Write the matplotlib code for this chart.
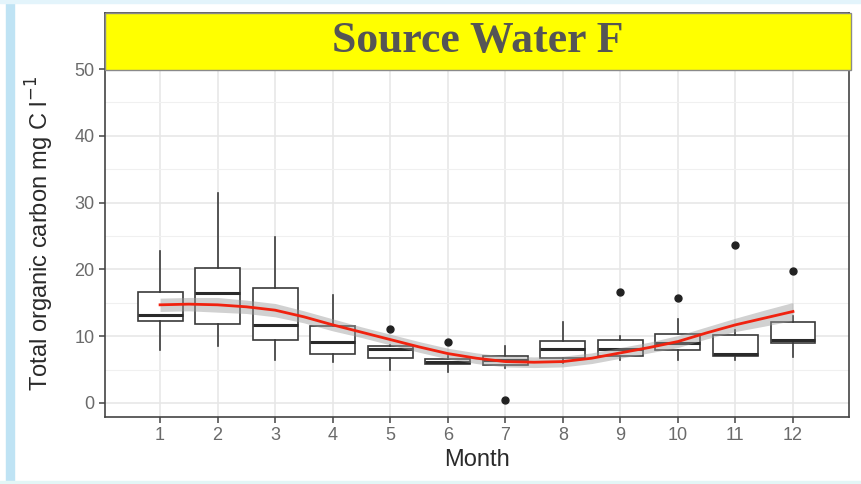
import matplotlib.pyplot as plt
from matplotlib.patches import Rectangle
import numpy as np

plt.rcParams["font.family"] = ["Liberation Sans", "DejaVu Sans"]

# box stats per month (mg C / l)
months = list(range(1, 13))
whislo = [8.0, 8.5, 6.5, 6.1, 5.0, 4.6, 5.2, 6.0, 6.5, 6.5, 6.5, 6.9]
q1     = [12.3, 11.9, 9.4, 7.4, 6.8, 5.8, 5.7, 6.8, 7.0, 7.9, 7.1, 9.0]
med    = [13.1, 16.5, 11.7, 9.2, 8.1, 6.2, 6.4, 8.1, 8.1, 9.0, 7.3, 9.5]
q3     = [16.6, 20.2, 17.2, 11.6, 8.5, 6.6, 7.0, 9.3, 9.5, 10.4, 10.2, 12.2]
whishi = [22.8, 31.4, 24.8, 16.1, 8.7, 7.0, 8.6, 12.1, 10.1, 12.6, 10.9, 13.0]
outliers = [[], [], [], [], [11.1], [9.1], [0.4], [], [16.6], [15.7], [23.6], [19.7]]

# loess smooth + band
smooth_x = [1, 1.5, 2, 2.5, 3, 3.5, 4, 4.5, 5, 5.5, 6, 6.5, 7, 7.5, 8, 8.5, 9, 9.5, 10, 10.5, 11, 11.5, 12]
smooth_y = [14.7, 14.8, 14.7, 14.4, 13.9, 12.9, 11.7, 10.6, 9.5, 8.4, 7.4, 6.7, 6.2, 6.1, 6.2, 6.7, 7.5, 8.3, 9.2, 10.5, 11.7, 12.7, 13.7]
smooth_se = [1.0, 1.0, 1.1, 1.0, 1.0, 0.9, 0.9, 0.8, 0.8, 0.8, 0.8, 0.8, 0.8, 0.8, 0.8, 0.8, 0.8, 0.8, 0.9, 0.9, 1.0, 1.2, 1.35]

W, H = 861, 484
fig = plt.figure(figsize=(W / 100, H / 100), dpi=100)

# slide decoration
fig.patches.append(Rectangle((6 / W, 0), 8 / W, 1, transform=fig.transFigure,
                             color="#bfe3f4", zorder=0))
fig.patches.append(Rectangle((0, 1 - 3 / H), 1, 3 / H, transform=fig.transFigure,
                             color="#e3f4fb", zorder=0))
fig.patches.append(Rectangle((0, 0), 1, 3 / H, transform=fig.transFigure,
                             color="#e3f6f6", zorder=0))

ax = fig.add_axes([105 / W, 1 - 417 / H, 744 / W, 404 / H])

stats = []
for i in range(12):
    stats.append(dict(whislo=whislo[i], q1=q1[i], med=med[i], q3=q3[i],
                      whishi=whishi[i], fliers=outliers[i]))

ax.bxp(stats, positions=months, widths=0.78, showcaps=False, patch_artist=True,
       boxprops=dict(facecolor="white", edgecolor="#3a3a3a", linewidth=1.2),
       whiskerprops=dict(color="#3a3a3a", linewidth=1.2),
       medianprops=dict(color="#2a2a2a", linewidth=2.2),
       flierprops=dict(marker="o", markerfacecolor="#222222", markeredgecolor="#222222",
                       markersize=5),
       zorder=3)

sy = np.array(smooth_y)
se = np.array(smooth_se)
ax.fill_between(smooth_x, sy - se, sy + se, color="#999999", alpha=0.45, lw=0, zorder=4)
ax.plot(smooth_x, smooth_y, color="#f0220f", lw=2, zorder=5)

ax.set_xlim(0.043, 12.974)
ax.set_ylim(-2.1, 58.4)
ax.set_xticks(months)
ax.set_yticks([0, 10, 20, 30, 40, 50])
ax.set_yticks([5, 15, 25, 35, 45], minor=True)
ax.grid(True, which="major", color="#e6e6e6", lw=1.1, zorder=0)
ax.grid(True, which="minor", axis="y", color="#f0f0f0", lw=0.8, zorder=0)
ax.set_axisbelow(True)

for s in ax.spines.values():
    s.set_color("#444444")
    s.set_linewidth(1.2)
ax.tick_params(axis="both", which="major", colors="#444444", length=4, width=1.1,
               labelsize=13, labelcolor="#6a6a6a")
ax.tick_params(axis="y", which="minor", length=0)

ax.set_xlabel("Month", fontsize=17, color="#2a2a2a", labelpad=3)
ax.set_ylabel("Total organic carbon mg C l$^{-1}$", fontsize=17, color="#2a2a2a")
ax.yaxis.set_label_coords(-0.066, 0.455)

# yellow title banner over the top of the panel
fig.patches.append(Rectangle((105 / W, 1 - 70 / H), 746 / W, 57 / H, transform=fig.transFigure,
                             facecolor="#ffff00", edgecolor="#8a8a8a", lw=1, zorder=10))
fig.text(478 / W, 1 - 41 / H, "Source Water F", ha="center", va="center",
         fontsize=31.5, fontweight="bold", family="Liberation Serif", color="#555555", zorder=11)

fig.savefig("out.png", dpi=100)
